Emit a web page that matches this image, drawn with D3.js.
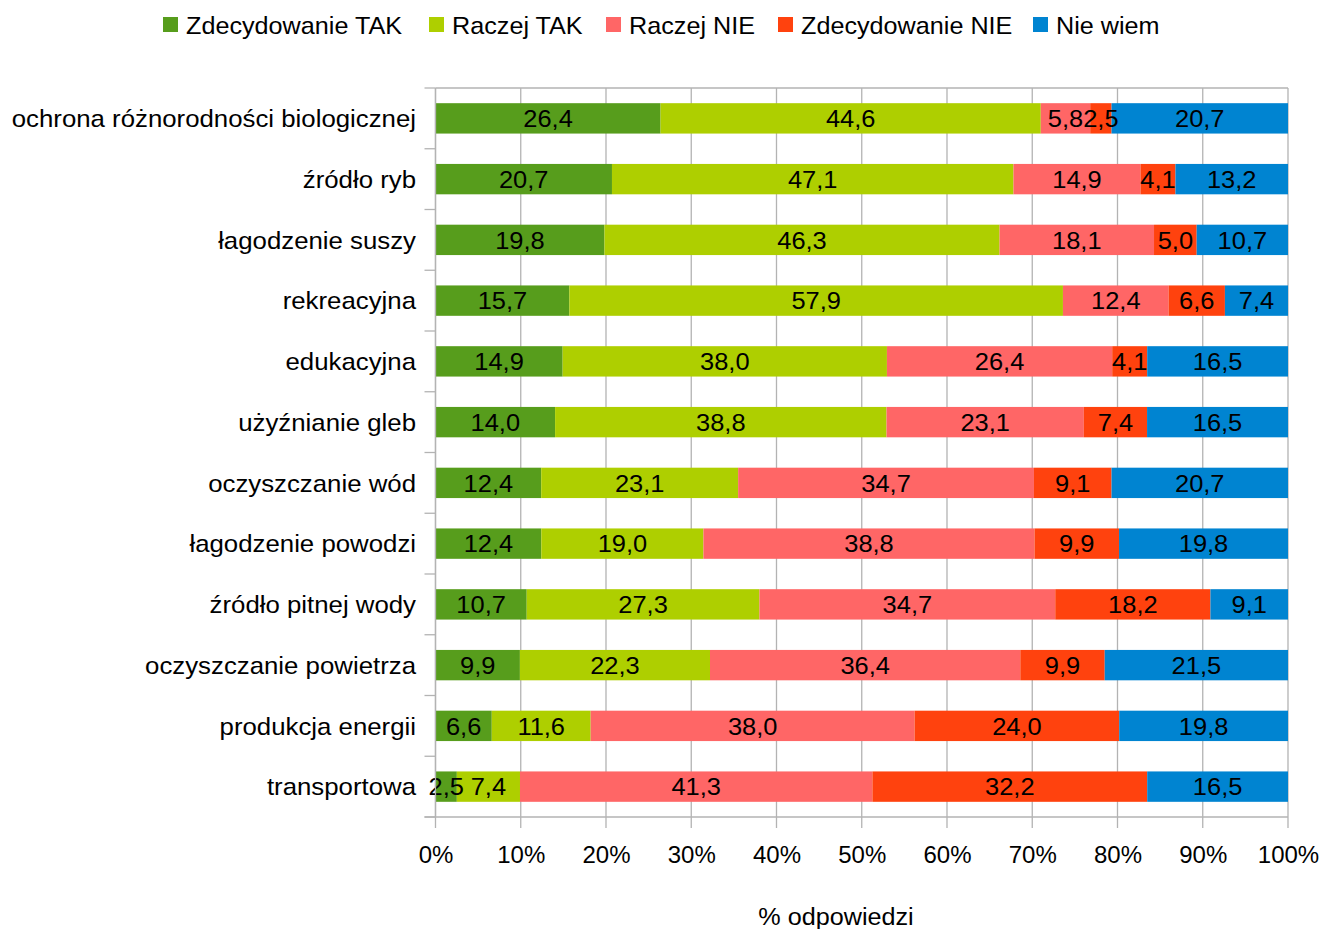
<!DOCTYPE html>
<html><head><meta charset="utf-8">
<script src="https://cdn.jsdelivr.net/npm/d3@7"></script>
<style>body{margin:0;background:#fff}svg{display:block;font-family:"Liberation Sans",Arial,sans-serif}</style>
</head><body><svg id="c" width="1322" height="929"></svg>
<script>
const categories = ["ochrona różnorodności biologicznej","źródło ryb","łagodzenie suszy","rekreacyjna","edukacyjna","użyźnianie gleb","oczyszczanie wód","łagodzenie powodzi","źródło pitnej wody","oczyszczanie powietrza","produkcja energii","transportowa"];
const seriesNames = ["Zdecydowanie TAK","Raczej TAK","Raczej NIE","Zdecydowanie NIE","Nie wiem"];
const zdecydowanieTak = [26.4,20.7,19.8,15.7,14.9,14.0,12.4,12.4,10.7,9.9,6.6,2.5];
const raczejTak      = [44.6,47.1,46.3,57.9,38.0,38.8,23.1,19.0,27.3,22.3,11.6,7.4];
const raczejNie      = [5.8,14.9,18.1,12.4,26.4,23.1,34.7,38.8,34.7,36.4,38.0,41.3];
const zdecydowanieNie= [2.5,4.1,5.0,6.6,4.1,7.4,9.1,9.9,18.2,9.9,24.0,32.2];
const nieWiem        = [20.7,13.2,10.7,7.4,16.5,16.5,20.7,19.8,9.1,21.5,19.8,16.5];
const xTicks = [0,0.1,0.2,0.3,0.4,0.5,0.6,0.7,0.8,0.9,1];
const colors = ["#579d1c","#aecf00","#ff6666","#ff420e","#0084d1"];
const xTitle = "% odpowiedzi";

const seriesVals = [zdecydowanieTak,raczejTak,raczejNie,zdecydowanieNie,nieWiem];
const rows = categories.map((c,i)=>{const o={cat:c};seriesNames.forEach((s,j)=>o[s]=seriesVals[j][i]);return o;});
const stack = d3.stack().keys(seriesNames).offset(d3.stackOffsetExpand)(rows);

const svg = d3.select("#c");
const L=435.5, R=1288, T=88, B=817;
const x = d3.scaleLinear().domain([0,1]).range([L,R]);
const y = d3.scaleBand().domain(categories).range([T,B]).paddingInner(0.5).paddingOuter(0.25);
const grid="#b3b3b3";
const fs=24;
const tf=(fx,fy,sx)=>(d,i)=>`translate(${fx(d,i)},${fy(d,i)}) scale(${sx},1)`;

// gridlines
svg.append("g").selectAll("line").data(xTicks).join("line")
  .attr("x1",d=>x(d)).attr("x2",d=>x(d)).attr("y1",T).attr("y2",B+11)
  .attr("stroke",grid).attr("stroke-width",1.3);
svg.append("line").attr("x1",L).attr("x2",R).attr("y1",T).attr("y2",T).attr("stroke",grid).attr("stroke-width",1.3);

// bars
const g = svg.append("g");
stack.forEach((s,j)=>{
  g.append("g").selectAll("rect").data(s).join("rect")
   .attr("x",d=>x(d[0])).attr("width",d=>x(d[1])-x(d[0]))
   .attr("y",d=>y(d.data.cat)).attr("height",y.bandwidth())
   .attr("fill",colors[j]);
});
stack.forEach((s,j)=>{
  g.append("g").selectAll("text").data(s).join("text")
   .attr("transform",tf(d=>(x(d[0])+x(d[1]))/2, d=>y(d.data.cat)+y.bandwidth()/2, 1.06))
   .attr("dy","0.36em").attr("text-anchor","middle").attr("font-size",fs).attr("fill","#000")
   .text(d=>d3.format(".1f")(d.data[s.key]).replace(".",","));
});

// y axis
const yb = categories.map((c,i)=>T+i*(B-T)/categories.length).concat([B]);
svg.append("line").attr("x1",L).attr("x2",L).attr("y1",T).attr("y2",B).attr("stroke",grid).attr("stroke-width",1.3);
svg.append("g").selectAll("line").data(yb).join("line")
  .attr("x1",L-11).attr("x2",L).attr("y1",d=>d).attr("y2",d=>d).attr("stroke",grid).attr("stroke-width",1.3);
svg.append("line").attr("x1",L-11).attr("x2",R).attr("y1",B).attr("y2",B).attr("stroke",grid).attr("stroke-width",1.3);
svg.append("g").selectAll("text").data(categories).join("text")
  .attr("transform",tf(()=>416, d=>y(d)+y.bandwidth()/2, 1.075)).attr("dy","0.36em")
  .attr("text-anchor","end").attr("font-size",fs).text(d=>d);

// x axis labels
const xa = svg.append("g").attr("transform",`translate(0,${B})`)
  .call(d3.axisBottom(x).tickValues(xTicks).tickFormat(d3.format(".0%")).tickSize(0).tickPadding(0));
xa.select(".domain").remove();
xa.selectAll("text").attr("font-size",fs).attr("font-family","Liberation Sans, Arial, sans-serif").attr("fill","#000").attr("dy",null).attr("y",46);

svg.append("text").attr("transform",`translate(836,925) scale(1.05,1)`).attr("text-anchor","middle").attr("font-size",fs).text(xTitle);

// legend
const lx=[163,429,606,778,1033];
const lg = svg.append("g").selectAll("g").data(seriesNames).join("g").attr("transform",(d,i)=>`translate(${lx[i]},0)`);
lg.append("rect").attr("x",0).attr("y",17).attr("width",15).attr("height",15).attr("fill",(d,i)=>colors[i]);
lg.append("text").attr("transform","translate(23,25) scale(1.05,1)").attr("dy","0.36em").attr("font-size",fs).text(d=>d);
</script></body></html>
